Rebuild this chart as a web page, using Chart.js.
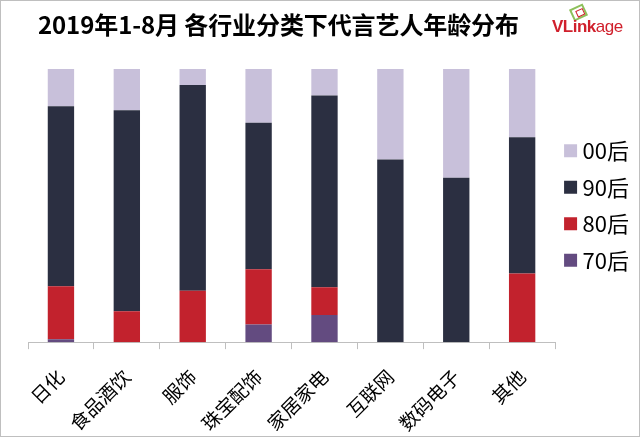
<!DOCTYPE html>
<html>
<head>
<meta charset="utf-8">
<script src="https://cdn.jsdelivr.net/npm/chart.js@4/dist/chart.umd.min.js"></script>
<style>
  html, body { margin: 0; padding: 0; background: #fff; }
  #frame { position: relative; width: 638px; height: 435px; border: 1px solid #bfbfbf; overflow: hidden; }
  #title { position: absolute; left: 37px; top: 7px; font: bold 24px "Noto Sans CJK SC", sans-serif; color: #000; white-space: nowrap; line-height: 32px; letter-spacing: -0.1px; }
  #logo { position: absolute; left: 551px; top: 16px; font: 17px "Liberation Sans", Arial, sans-serif; color: #d0202c; white-space: nowrap; letter-spacing: -0.5px; }
  #logo b { font-weight: bold; }
  #leaf { position: absolute; left: 570px; top: 5px; width: 11px; height: 9px; border: 2px solid #8dc05a; transform: rotate(-25deg); }
  #leaf:after { content: ""; position: absolute; left: 3px; top: 2px; width: 6px; height: 5px; border: 1px solid #d0202c; }
  canvas { position: absolute; left: 0; top: 0; }
</style>
</head>
<body>
<div id="frame">
  <canvas id="chart" width="638" height="435"></canvas>
  <div id="title">2019年1-8月 各行业分类下代言艺人年龄分布</div>
  <div id="leaf"></div>
  <div id="logo"><b>VLink</b>age</div>
</div>
<script>
var categories = ['日化', '食品酒饮', '服饰', '珠宝配饰', '家居家电', '互联网', '数码电子', '其他'];
var seriesNames = ['70后', '80后', '90后', '00后'];
var after70 = [1.1, 0, 0, 6.5, 9.9, 0, 0, 0];
var after80 = [19.4, 11.3, 18.8, 20.2, 10.2, 0, 0, 25.1];
var after90 = [65.9, 73.6, 75.3, 53.6, 70.2, 66.9, 60.2, 49.9];
var after00 = [13.6, 15.1, 5.9, 19.7, 9.7, 33.1, 39.8, 25.0];
var colors = ['#634b80', '#c2222d', '#2b2f41', '#c8c0da'];

window.onload = function(){
    get_age_chart();
}

function get_age_chart(){
    var ctx = document.getElementById("chart");
    var values = [after70, after80, after90, after00];
    var datasets = seriesNames.map(function(name, i){
        return {
            label: name,
            data: values[i],
            backgroundColor: colors[i],
            borderWidth: 0,
            pointStyle: 'rect',
            categoryPercentage: 1,
            barPercentage: 0.4
        };
    });
    var myChart = new Chart(ctx, {
      type: 'bar',
      data: { labels: categories, datasets: datasets },
      options: {
        responsive: false,
        animation: false,
        layout: { padding: { top: 68, left: 27, right: 0, bottom: -15 } },
        plugins: {
          tooltip: { enabled: false },
          title: { display: false },
          legend: {
            position: 'right',
            fullSize: false,
            reverse: true,
            labels: {
              usePointStyle: true,
              boxWidth: 2,
              boxHeight: 13,
              padding: 14.5,
              color: '#000',
              font: { size: 22, family: '"Noto Sans CJK SC", sans-serif' }
            }
          }
        },
        scales: {
          x: {
            stacked: true,
            grid: { drawOnChartArea: false, drawTicks: true, tickLength: 7, color: '#bfbfbf' },
            border: { color: '#bfbfbf' },
            ticks: {
              maxRotation: 45,
              minRotation: 45,
              padding: 16,
              color: '#000',
              font: { size: 19, family: '"Noto Sans CJK SC", sans-serif' }
            }
          },
          y: { stacked: true, display: false, min: 0, max: 100 }
        }
      }
    });
}
</script>
</body>
</html>
